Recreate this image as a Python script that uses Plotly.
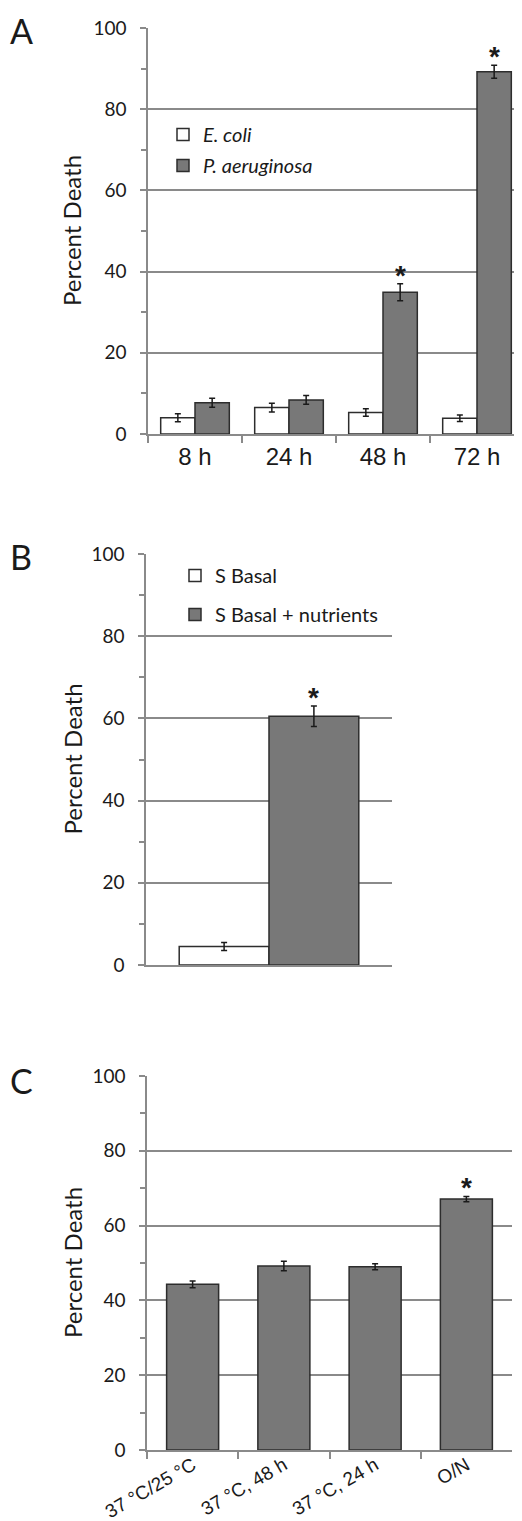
import plotly.graph_objects as go

# ---------------- data ----------------
# Panel A
timepoints = ["8 h", "24 h", "48 h", "72 h"]
ecoli = [4.0, 6.5, 5.3, 3.9]
ecoli_err = [1.0, 1.1, 0.9, 0.8]
paer = [7.7, 8.4, 34.9, 89.2]
paer_err = [1.1, 1.1, 2.1, 1.6]
paer_sig = [False, False, True, True]

# Panel B
media = ["medium"]
sbasal = [4.5]
sbasal_err = [1.0]
nutrients = [60.5]
nutrients_err = [2.5]
nutrients_sig = [True]

# Panel C
conditions = ["37 °C/25 °C", "37 °C, 48 h", "37 °C, 24 h", "O/N"]
cond_vals = [44.3, 49.2, 49.0, 67.1]
cond_err = [0.9, 1.3, 0.8, 0.7]
cond_sig = [False, False, False, True]

y_ticks = [0, 20, 40, 60, 80, 100]

# ---------------- style ----------------
PAGE_W, PAGE_H = 522, 1521
OFF = 8  # default page body margin
W, H = PAGE_W - OFF, PAGE_H - OFF
GRID = "rgb(138,138,138)"
TXT = "#1a1a1a"
WHITE_FILL = "white"
GREY_FILL = "rgb(120,120,120)"
EDGE = "rgb(45,45,45)"
FONT = "Lato"
ERR = dict(type="data", color="#1a1a1a", thickness=1.5, width=3)


def px_x(p):
    return (p - OFF) / W


def px_y(p):
    return 1 - (p - OFF) / H


fig = go.Figure()

# Panel A
bargap_a = 0.27
fig.add_trace(go.Bar(x=timepoints, y=ecoli, name="<i>E. coli</i>",
                     marker=dict(color=WHITE_FILL, line=dict(color=EDGE, width=1.5)),
                     error_y=dict(array=ecoli_err, **ERR),
                     xaxis="x", yaxis="y", legend="legend", legendgroup="a1"))
fig.add_trace(go.Bar(x=timepoints, y=paer, name="<i>P. aeruginosa</i>",
                     marker=dict(color=GREY_FILL, line=dict(color=EDGE, width=1.5)),
                     error_y=dict(array=paer_err, **ERR),
                     xaxis="x", yaxis="y", legend="legend", legendgroup="a2"))

# Panel B
bargap_b = 0.27
fig.add_trace(go.Bar(x=media, y=sbasal, name="S Basal",
                     marker=dict(color=WHITE_FILL, line=dict(color=EDGE, width=1.5)),
                     error_y=dict(array=sbasal_err, **ERR),
                     xaxis="x2", yaxis="y2", legend="legend2", legendgroup="b1"))
fig.add_trace(go.Bar(x=media, y=nutrients, name="S Basal + nutrients",
                     marker=dict(color=GREY_FILL, line=dict(color=EDGE, width=1.5)),
                     error_y=dict(array=nutrients_err, **ERR),
                     xaxis="x2", yaxis="y2", legend="legend2", legendgroup="b2"))

# Panel C
fig.add_trace(go.Bar(x=conditions, y=cond_vals, name="conditions", showlegend=False,
                     width=0.57,
                     marker=dict(color=GREY_FILL, line=dict(color=EDGE, width=1.5)),
                     error_y=dict(array=cond_err, **ERR),
                     xaxis="x3", yaxis="y3"))

annotations = []


def star(xref, yref, xv, yv):
    annotations.append(dict(x=xv, y=yv, xref=xref, yref=yref, text="<b>*</b>",
                            showarrow=False, yanchor="bottom", yshift=-9,
                            font=dict(family="Liberation Sans", size=28, color=TXT)))


# asterisks (grey bar is the second of two bars in a group)
off_a = (1 - bargap_a) / 4
for i, (v, e, s) in enumerate(zip(paer, paer_err, paer_sig)):
    if s:
        star("x", "y", i + off_a, v + e)
off_b = (1 - bargap_b) / 4
for i, (v, e, s) in enumerate(zip(nutrients, nutrients_err, nutrients_sig)):
    if s:
        star("x2", "y2", i + off_b, v + e)
for i, (v, e, s) in enumerate(zip(cond_vals, cond_err, cond_sig)):
    if s:
        star("x3", "y3", i, v + e)

# panel letters
annotations.append(dict(x=px_x(21), y=1.0, xref="paper", yref="paper",
                        text="A", showarrow=False, xanchor="center", yanchor="top",
                        font=dict(family=FONT, size=34, color=TXT)))
for letter, ypx in [("B", 556), ("C", 1080)]:
    annotations.append(dict(x=px_x(21), y=px_y(ypx), xref="paper", yref="paper",
                            text=letter, showarrow=False, xanchor="center", yanchor="middle",
                            font=dict(family=FONT, size=34, color=TXT)))

# y titles
for yc in [231, 759.5, 1263]:
    annotations.append(dict(x=px_x(72), y=px_y(yc), xref="paper", yref="paper",
                            text="Percent Death", textangle=-90, showarrow=False,
                            xanchor="center", yanchor="middle",
                            font=dict(family=FONT, size=24, color=TXT)))


def yaxis(domain, anchor):
    return dict(domain=domain, range=[0, 100], tickvals=y_ticks, anchor=anchor,
                automargin=False,
                showgrid=True, gridcolor=GRID, gridwidth=1.5,
                showline=True, linecolor=GRID, linewidth=1.5,
                ticks="outside", ticklen=6, tickcolor=GRID, tickwidth=1.5,
                minor=dict(dtick=10, ticks="outside", ticklen=5, tickcolor=GRID,
                           tickwidth=1.5, showgrid=False),
                zeroline=False, ticklabelstandoff=10,
                tickfont=dict(family=FONT, size=19, color=TXT), fixedrange=True)


fig.update_layout(
    width=W, height=H,
    margin=dict(l=0, r=0, t=0, b=0, pad=0, autoexpand=False),
    paper_bgcolor="white", plot_bgcolor="white",
    barmode="group",
    bargap=bargap_a,
    xaxis=dict(domain=[px_x(148), 1.0], range=[-0.5, 3.5 - 2 / 94], anchor="y",
               automargin=False,
               showline=True, linecolor=GRID, linewidth=1.5,
               ticks="outside", tickson="boundaries", ticklen=7, tickcolor=GRID, tickwidth=1.5,
               tickfont=dict(family="Liberation Sans", size=24, color=TXT),
               showgrid=False),
    yaxis=yaxis([px_y(434), px_y(28)], "x"),
    xaxis2=dict(domain=[px_x(146), px_x(392)], range=[-0.5, 0.5], anchor="y2",
                automargin=False,
                showline=True, linecolor=GRID, linewidth=1.5, showticklabels=False,
                ticks="", showgrid=False),
    yaxis2=yaxis([px_y(965), px_y(554)], "x2"),
    xaxis3=dict(domain=[px_x(147), px_x(512)], range=[-0.5, 3.5], anchor="y3",
                automargin=False,
                showline=True, linecolor=GRID, linewidth=1.5,
                ticks="outside", tickson="boundaries", ticklen=7, tickcolor=GRID, tickwidth=1.5,
                tickangle=-30, ticklabelstandoff=-5,
                tickfont=dict(family="Liberation Sans", size=19, color=TXT),
                showgrid=False),
    yaxis3=yaxis([px_y(1450), px_y(1076)], "x3"),
    legend=dict(x=px_x(163), y=px_y(115), xanchor="left", yanchor="top",
                bgcolor="rgba(0,0,0,0)", tracegroupgap=2,
                font=dict(family=FONT, size=20, color=TXT)),
    legend2=dict(x=px_x(175), y=px_y(556), xanchor="left", yanchor="top",
                 bgcolor="rgba(0,0,0,0)", tracegroupgap=10,
                 font=dict(family=FONT, size=20, color=TXT)),
    annotations=annotations,
)

fig.write_html("out.html")
